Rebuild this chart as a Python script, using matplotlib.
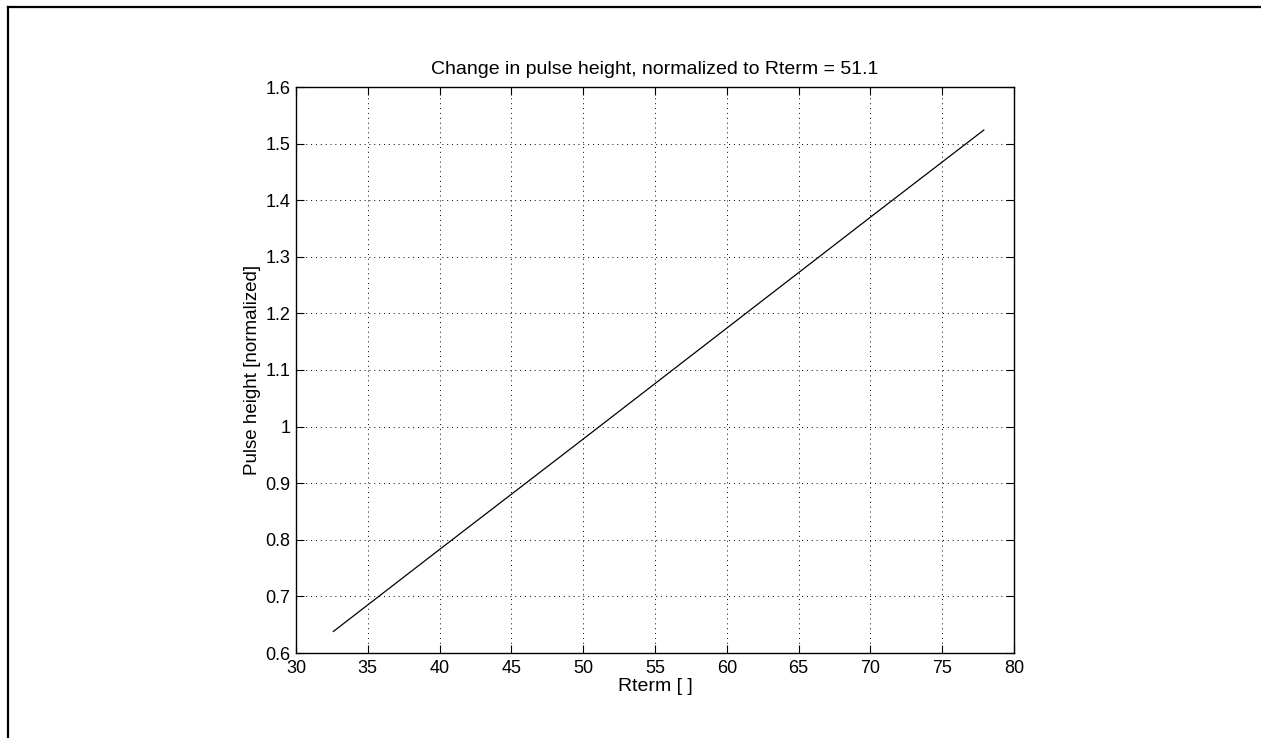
import matplotlib
matplotlib.use("Agg")
import matplotlib.pyplot as plt
from matplotlib.lines import Line2D
from matplotlib.ticker import FuncFormatter

rterm = [32.6, 40.0, 50.0, 60.0, 70.0, 77.9]
height = [0.638, 0.783, 0.978, 1.174, 1.370, 1.524]
xticks = [30, 35, 40, 45, 50, 55, 60, 65, 70, 75, 80]
yticks = [0.6, 0.7, 0.8, 0.9, 1.0, 1.1, 1.2, 1.3, 1.4, 1.5, 1.6]

plt.rcParams['font.family'] = ['Liberation Sans', 'DejaVu Sans']
W, H = 1261, 738
fig = plt.figure(figsize=(W/100, H/100), dpi=100)
ax = fig.add_axes([296/W, 1-653/H, (1014-296)/W, (653-87)/H])
ax.plot(rterm, height, color='black', lw=0.9)
ax.set_xlim(30, 80)
ax.set_ylim(0.6, 1.6)
ax.set_xticks(xticks)
ax.set_yticks(yticks)
ax.yaxis.set_major_formatter(FuncFormatter(lambda v, p: f"{v:g}"))
ax.grid(True, color='black', linestyle=(0, (1, 4)), linewidth=0.7)
ax.tick_params(direction='in', length=6, width=0.8, top=True, right=True,
               labelsize=13)
ax.tick_params(axis='x', pad=5)
ax.tick_params(axis='y', pad=4)
for s in ax.spines.values():
    s.set_linewidth(1.0)
ax.set_title("Change in pulse height, normalized to Rterm = 51.1", fontsize=14, pad=9)
ax.set_xlabel("Rterm [ ]", fontsize=14, labelpad=1)
ax.set_ylabel("Pulse height [normalized]", fontsize=13.5, labelpad=3)

fig.add_artist(Line2D([8/W, 8/W], [0, 1-7/H], transform=fig.transFigure, color='black', lw=1.6))
fig.add_artist(Line2D([8/W, 1], [1-7/H, 1-7/H], transform=fig.transFigure, color='black', lw=1.6))

fig.savefig("out.png", dpi=100, facecolor='white')
